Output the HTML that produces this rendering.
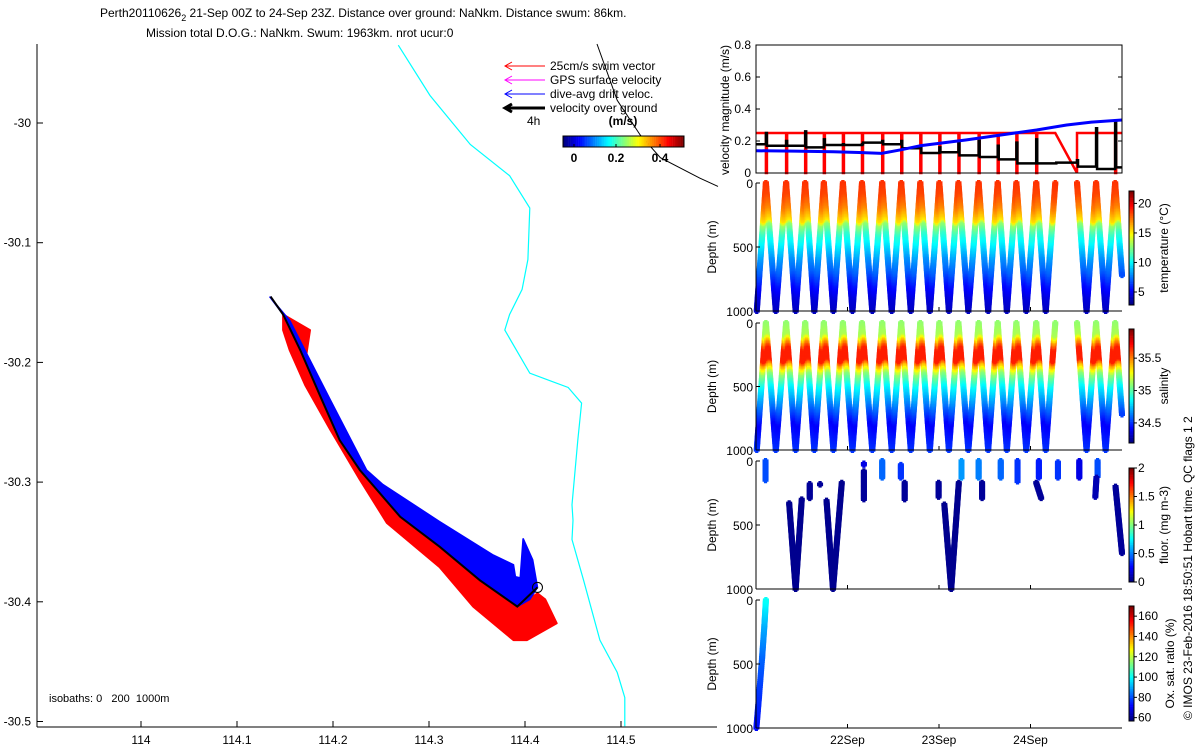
<!DOCTYPE html>
<html><head><meta charset="utf-8"><style>
html,body{margin:0;padding:0;background:#fff;}
svg{display:block;font-family:"Liberation Sans",sans-serif;}
text{font-size:12px;fill:#000;}
</style></head><body>
<svg id="fig" width="1200" height="750" viewBox="0 0 1200 750" xmlns="http://www.w3.org/2000/svg">
<text x="100" y="17">Perth20110626<tspan dy="4" font-size="9">2</tspan><tspan dy="-4"> 21-Sep 00Z to 24-Sep 23Z. Distance over ground: NaNkm. Distance swum: 86km.</tspan></text>
<text x="146" y="37">Mission total D.O.G.: NaNkm. Swum: 1963km. nrot ucur:0</text>
<g id="map"></g>
<g id="legend"></g>
<g id="vel"></g>
<g id="panels"></g>
<text transform="translate(1192,720) rotate(-90)" style="font-size:12px">© IMOS 23-Feb-2016 18:50:51 Hobart time. QC flags 1  2</text>
</svg>
<script>
// ---------- data ----------
const isoLon=[114.268,114.301,114.343,114.384,114.405,114.403,114.397,114.384,114.379,114.405,114.445,114.459,114.455,114.449,114.450,114.449,114.461,114.478,114.496,114.504,114.504];
const isoLat=[-29.935,-29.977,-30.018,-30.044,-30.071,-30.114,-30.139,-30.160,-30.173,-30.209,-30.221,-30.234,-30.265,-30.319,-30.332,-30.348,-30.382,-30.432,-30.459,-30.480,-30.504];
const iso2Lon=[114.475,114.496,114.520,114.541,114.582,114.601];
const iso2Lat=[-29.934,-29.981,-30.010,-30.029,-30.046,-30.053];
const trackLon=[114.135,114.148,114.166,114.186,114.207,114.228,114.270,114.311,114.353,114.392,114.413];
const trackLat=[-30.145,-30.160,-30.190,-30.227,-30.265,-30.290,-30.329,-30.354,-30.382,-30.404,-30.388];
const blueLon=[114.134,114.155,114.197,114.235,114.252,114.311,114.367,114.388,114.390,114.395,114.398,114.408,114.413,114.405,114.392,114.353,114.311,114.270,114.228,114.207,114.186,114.166,114.148];
const blueLat=[-30.145,-30.165,-30.231,-30.290,-30.302,-30.333,-30.361,-30.369,-30.379,-30.380,-30.347,-30.365,-30.388,-30.398,-30.404,-30.382,-30.354,-30.329,-30.290,-30.265,-30.227,-30.190,-30.160];
const redLon=[114.148,114.176,114.172,114.190,114.207,114.228,114.270,114.311,114.353,114.392,114.413,114.421,114.433,114.402,114.388,114.346,114.311,114.256,114.228,114.197,114.171,114.155,114.148];
const redLat=[-30.160,-30.173,-30.195,-30.227,-30.265,-30.290,-30.329,-30.354,-30.382,-30.404,-30.393,-30.398,-30.418,-30.432,-30.432,-30.404,-30.371,-30.334,-30.298,-30.256,-30.219,-30.190,-30.173];
const lonTicks=[114,114.1,114.2,114.3,114.4,114.5];
const latTicks=[-30,-30.1,-30.2,-30.3,-30.4,-30.5];

const diveTimes=[2.6,7.9,12.9,17.8,22.8,27.8,33.1,38.1,43.1,48.1,53.1,58.4,63.4,68.3,73.5,78.5,84.2,89.2,94.2];
const bottomTimes=[5.2,10.4,15.3,20.3,25.3,30.5,35.6,40.6,45.6,50.6,55.7,60.9,65.8,70.9,76.0,null,86.7,91.7];
const blackV=[0.18,0.17,0.17,0.16,0.175,0.175,0.19,0.18,0.155,0.125,0.13,0.11,0.10,0.085,0.06,0.06,0.065,0.04,0.025,0.035];
const spikeV=[0.25,0.2,0.26,0.21,0.18,0.18,0.2,0.2,0.17,0.16,0.2,0.2,0.17,0.19,0.21,0.06,0.08,0.28,0.32];
const redMode=['d','d','d','d','d','d','d','d','d','d','d','d','d','d','d','ramp','up','none','d'];
const blueT=[0,10,20.3,27,33,38,43,49,55,64,73.6,81.5,88,96];
const blueV=[0.139,0.137,0.133,0.128,0.123,0.145,0.170,0.188,0.206,0.237,0.269,0.3,0.318,0.331];
const velTicks=[0,0.2,0.4,0.6,0.8];

const tempDepth=[0,100,200,300,320,400,500,600,700,800,900,1000];
const tempVal=[18.8,18.4,17.2,15.3,13,11,9.5,8,7,5.5,4.5,4];
const salDepth=[0,100,150,200,300,330,400,500,600,800,1000];
const salVal=[35.1,35.15,35.45,35.68,35.68,35.45,35.1,34.85,34.7,34.4,34.5];
const fluorSegs=[[2.5,0,2.5,150,0.4],[8.7,330,10.4,1000,0.03],[10.4,1000,12,300,0.03],[14.1,180,14.1,290,0.05],[16.8,180,16.8,185,0.05],[18.5,310,20.2,1000,0.03],[20.2,1000,22.5,170,0.03],[28.3,20,28.3,30,0.2],[28.3,80,28.3,300,0.05],[33.1,0,33.1,130,0.45],[38,30,38,130,0.35],[39,170,39,300,0.05],[47.9,170,47.9,280,0.05],[49.4,340,51.2,1000,0.03],[51.2,1000,53.2,170,0.03],[53.9,0,53.9,130,0.55],[58.4,0,58.4,130,0.5],[59.3,170,59.3,290,0.05],[64.2,0,64.2,130,0.45],[68.6,0,68.6,160,0.35],[73.5,170,74.8,290,0.05],[74.2,0,74.2,130,0.3],[79.2,10,79.2,130,0.35],[84.8,0,84.8,130,0.2],[89.6,0,89.6,120,0.4],[89.3,130,89.0,280,0.1],[94.3,200,96,720,0.05]];
const oxT=[0.1,0.8,1.6,2.2,2.6];
const oxD=[1000,750,450,200,0];
const oxV=[72,76,82,90,100];
const dateTicks=[24,48,72];
const dateLabels=['22Sep','23Sep','24Sep'];

// ---------- helpers ----------
const NS='http://www.w3.org/2000/svg';
function mk(parent,tag,attrs,name){const e=document.createElementNS(NS,tag);for(const k in attrs)e.setAttribute(k,attrs[k]);


parent.appendChild(e);return e;}
function txt(parent,x,y,s,anchor,name,extra){const t=mk(parent,'text',Object.assign({x:x,y:y,'text-anchor':anchor||'start'},extra||{}),name);t.textContent=s;return t;}
function jet(t){t=Math.max(0,Math.min(1,t));const c=v=>Math.round(255*Math.max(0,Math.min(1,v)));
return 'rgb('+c(1.5-Math.abs(4*t-3))+','+c(1.5-Math.abs(4*t-2))+','+c(1.5-Math.abs(4*t-1))+')';}
function interp(xs,ys,x){if(x<=xs[0])return ys[0];for(let i=1;i<xs.length;i++){if(x<=xs[i]){const f=(x-xs[i-1])/(xs[i]-xs[i-1]);return ys[i-1]+f*(ys[i]-ys[i-1]);}}return ys[ys.length-1];}

// ---------- map ----------
const map=document.getElementById('map');
const mx=l=>141+(l-114)*960, my=l=>123-(l+30)*1197;
function poly(lons,lats){return lons.map((l,i)=>mx(l).toFixed(1)+','+my(lats[i]).toFixed(1)).join(' ');}
mk(map,'polyline',{points:poly(isoLon,isoLat),fill:'none',stroke:'#00ffff','stroke-width':1.2},'isobath-1000m');
mk(map,'polyline',{points:poly(iso2Lon,iso2Lat),fill:'none',stroke:'#000','stroke-width':1},'isobath-200m');
mk(map,'polygon',{points:poly(redLon,redLat),fill:'#ff0000',stroke:'#ff0000','stroke-width':2,'stroke-linejoin':'round'},'swim-vectors');
mk(map,'polygon',{points:poly(blueLon,blueLat),fill:'#0000ff',stroke:'#0000ff','stroke-width':1.5},'drift-vectors');
mk(map,'polyline',{points:poly(trackLon,trackLat),fill:'none',stroke:'#000','stroke-width':2},'glider-track');
mk(map,'circle',{cx:mx(trackLon[10]),cy:my(trackLat[10]),r:5,fill:'none',stroke:'#000','stroke-width':1},'last-position-marker');
mk(map,'line',{x1:37,y1:44,x2:37,y2:727,stroke:'#000'},'map-y-axis');
mk(map,'line',{x1:37,y1:727,x2:717,y2:727,stroke:'#000'},'map-x-axis');
lonTicks.forEach(v=>{const x=mx(v);mk(map,'line',{x1:x,y1:727,x2:x,y2:721,stroke:'#000'},'map-x-tick');txt(map,x,744,String(v),'middle','map-x-tick-label');});
latTicks.forEach(v=>{const y=my(v);mk(map,'line',{x1:37,y1:y,x2:43,y2:y,stroke:'#000'},'map-y-tick');txt(map,31,y+4,String(v),'end','map-y-tick-label');});
txt(map,49,702,'isobaths: 0   200  1000m','start','isobath-note',{style:'font-size:11px;white-space:pre'});

// ---------- legend ----------
const lg=document.getElementById('legend');
const legItems=[['#ff0000','25cm/s swim vector',1],['#ff00ff','GPS surface velocity',1],['#0000ff','dive-avg drift veloc.',1],['#000','velocity over ground',3]];
legItems.forEach((it,i)=>{const y=66+i*14;
mk(lg,'line',{x1:505,y1:y,x2:545,y2:y,stroke:it[0],'stroke-width':it[2]},'legend-arrow-line');
mk(lg,'polyline',{points:'512,'+(y-4)+' 505,'+y+' 512,'+(y+4),fill:'none',stroke:it[0],'stroke-width':it[2]},'legend-arrow-head');
txt(lg,550,y+4,it[1],'start','legend-entry');});
txt(lg,527,125,'4h','start','legend-timescale');
txt(lg,623,125,'(m/s)','middle','colorbar-unit',{'font-weight':'bold'});
for(let i=0;i<64;i++){mk(lg,'rect',{x:(563+i*121/64).toFixed(2),y:136,width:2.1,height:11,fill:jet(i/63)},'speed-colorbar-cell');}
mk(lg,'rect',{x:563,y:136,width:121,height:11,fill:'none',stroke:'#000'},'speed-colorbar');
[[0,574],[0.2,616],[0.4,660]].forEach(p=>{txt(lg,p[1],162,String(p[0]),'middle','speed-colorbar-label',{'font-weight':'bold'});mk(lg,'line',{x1:p[1],y1:147,x2:p[1],y2:144,stroke:'#000'},'speed-colorbar-tick');});

// ---------- velocity panel ----------
const X0=756,X1=1122,TMAX=96;
const tx=t=>X0+t*(X1-X0)/TMAX;
const vel=document.getElementById('vel');
const vy=v=>173-v*160;
let rp='M'+tx(0)+','+vy(0.25);
diveTimes.forEach((t,i)=>{const m=redMode[i];
if(m==='d'){rp+=' L'+tx(t)+','+vy(0.25)+' L'+tx(t)+','+vy(0)+' L'+(tx(t)+1)+','+vy(0)+' L'+(tx(t)+1)+','+vy(0.25);}
else if(m==='ramp'){rp+=' L'+tx(t)+','+vy(0.25)+' L'+tx(diveTimes[i+1])+','+vy(0);}
else if(m==='up'){rp+=' L'+tx(t)+','+vy(0.25);}});
rp+=' L'+tx(TMAX)+','+vy(0.25);
mk(vel,'path',{d:rp,fill:'none',stroke:'#ff0000','stroke-width':2.5},'swim-speed-line');
let bp='M'+tx(0)+','+vy(blackV[0]);
diveTimes.forEach((t,i)=>{bp+=' L'+tx(t)+','+vy(blackV[i])+' L'+tx(t)+','+vy(spikeV[i])+' L'+(tx(t)+1)+','+vy(spikeV[i])+' L'+(tx(t)+1)+','+vy(blackV[i+1]);});
bp+=' L'+tx(TMAX)+','+vy(blackV[blackV.length-1]);
mk(vel,'path',{d:bp,fill:'none',stroke:'#000','stroke-width':2.5},'ground-speed-line');
mk(vel,'polyline',{points:blueT.map((t,i)=>tx(t)+','+vy(blueV[i])).join(' '),fill:'none',stroke:'#0000ff','stroke-width':3,'stroke-linejoin':'round'},'drift-speed-line');
mk(vel,'rect',{x:X0,y:45,width:X1-X0,height:128,fill:'none',stroke:'#000'},'velocity-axes-box');
velTicks.forEach(v=>{const y=vy(v);mk(vel,'line',{x1:X0,y1:y,x2:X0+4,y2:y,stroke:'#000'},'velocity-tick');mk(vel,'line',{x1:X1-4,y1:y,x2:X1,y2:y,stroke:'#000'},'velocity-tick-right');txt(vel,751,y+4,String(v),'end','velocity-tick-label');});
txt(vel,0,0,'velocity magnitude (m/s)','middle','velocity-y-title',{transform:'translate(729,110) rotate(-90)'});

// ---------- depth panels ----------
const pan=document.getElementById('panels');
const panels=[
 {name:'temperature',top:183,bot:311,cbTop:191,cbBot:305,vmin:2.8,vmax:22.1,ticks:[5,10,15,20],label:'temperature (°C)',tx:1168,prof:[tempDepth,tempVal]},
 {name:'salinity',top:323,bot:450,cbTop:329,cbBot:443,vmin:34.19,vmax:35.95,ticks:[34.5,35,35.5],label:'salinity',tx:1168,prof:[salDepth,salVal]},
 {name:'fluorescence',top:461,bot:589,cbTop:468,cbBot:582,vmin:0,vmax:2,ticks:[0,0.5,1,1.5,2],label:'fluor. (mg m-3)',tx:1168},
 {name:'oxygen',top:600,bot:728,cbTop:606,cbBot:721,vmin:56.7,vmax:170,ticks:[60,80,100,120,140,160],label:'Ox. sat. ratio (%)',tx:1174}];
function legs(){const L=[[0.2,1000,diveTimes[0],0]];
for(let i=0;i<bottomTimes.length;i++){if(bottomTimes[i]===null)continue;L.push([diveTimes[i],0,bottomTimes[i],1000]);L.push([bottomTimes[i],1000,diveTimes[i+1],0]);}
L.push([diveTimes[diveTimes.length-1],0,TMAX,720]);return L;}
function dot(g,x,y,c,name){mk(g,'path',{d:'M'+(x-3)+','+y+'h6M'+x+','+(y-3)+'v6',stroke:c,'stroke-width':3.2},name);}
panels.forEach((p,pi)=>{
 const g=mk(pan,'g',{},p.name+'-panel');
 const dy=d=>p.top+d/1000*(p.bot-p.top);
 const col=v=>jet((v-p.vmin)/(p.vmax-p.vmin));
 if(p.prof){legs().forEach(l=>{const n=Math.max(2,Math.round(Math.abs(l[3]-l[1])/12));for(let k=0;k<=n;k++){const f=k/n,t=l[0]+f*(l[2]-l[0]),d=l[1]+f*(l[3]-l[1]);dot(g,tx(t),dy(d),col(interp(p.prof[0],p.prof[1],d)),p.name+'-sample');}});}
 else if(pi===2){fluorSegs.forEach(s=>{const n=Math.max(1,Math.round(Math.abs(s[3]-s[1])/10));for(let k=0;k<=n;k++){const f=k/n;dot(g,tx(s[0]+f*(s[2]-s[0])),dy(s[1]+f*(s[3]-s[1])),col(s[4]),'fluor-sample');}});}
 else{for(let i=1;i<oxT.length;i++){const n=20;for(let k=0;k<=n;k++){const f=k/n;dot(g,tx(oxT[i-1]+f*(oxT[i]-oxT[i-1])),dy(oxD[i-1]+f*(oxD[i]-oxD[i-1])),col(oxV[i-1]+f*(oxV[i]-oxV[i-1])),'oxygen-sample');}}}
 mk(g,'line',{x1:X0,y1:p.top,x2:X0,y2:p.bot,stroke:'#000'},p.name+'-y-axis');
 mk(g,'line',{x1:X0,y1:p.bot,x2:X1,y2:p.bot,stroke:'#000'},p.name+'-x-axis');
 [0,500,1000].forEach(d=>{mk(g,'line',{x1:X0,y1:dy(d),x2:X0+4,y2:dy(d),stroke:'#000'},'depth-tick');txt(g,753,dy(d)+5,String(d),'end','depth-tick-label');});
 dateTicks.forEach(t=>{mk(g,'line',{x1:tx(t),y1:p.bot,x2:tx(t),y2:p.bot-4,stroke:'#000'},'time-tick');});
 txt(g,0,0,'Depth (m)','middle',p.name+'-y-title',{transform:'translate(716,'+((p.top+p.bot)/2)+') rotate(-90)'});
 const cbH=p.cbBot-p.cbTop;
 for(let i=0;i<64;i++){mk(g,'rect',{x:1129,y:(p.cbBot-(i+1)*cbH/64).toFixed(2),width:5,height:(cbH/64+0.3).toFixed(2),fill:jet(i/63)},'colorbar-cell');}
 mk(g,'rect',{x:1129,y:p.cbTop,width:5,height:cbH,fill:'none',stroke:'#000'},p.name+'-colorbar');
 p.ticks.forEach(v=>{const y=p.cbBot-(v-p.vmin)/(p.vmax-p.vmin)*cbH;mk(g,'line',{x1:1134,y1:y,x2:1137,y2:y,stroke:'#000'},'colorbar-tick');txt(g,1138,y+4,String(v),'start','colorbar-tick-label');});
 txt(g,0,0,p.label,'middle',p.name+'-colorbar-title',{transform:'translate('+p.tx+','+((p.cbTop+p.cbBot)/2)+') rotate(-90)'});
});
dateTicks.forEach((t,i)=>txt(pan,tx(t),744,dateLabels[i],'middle','date-tick-label'));
</script>
</body></html>
